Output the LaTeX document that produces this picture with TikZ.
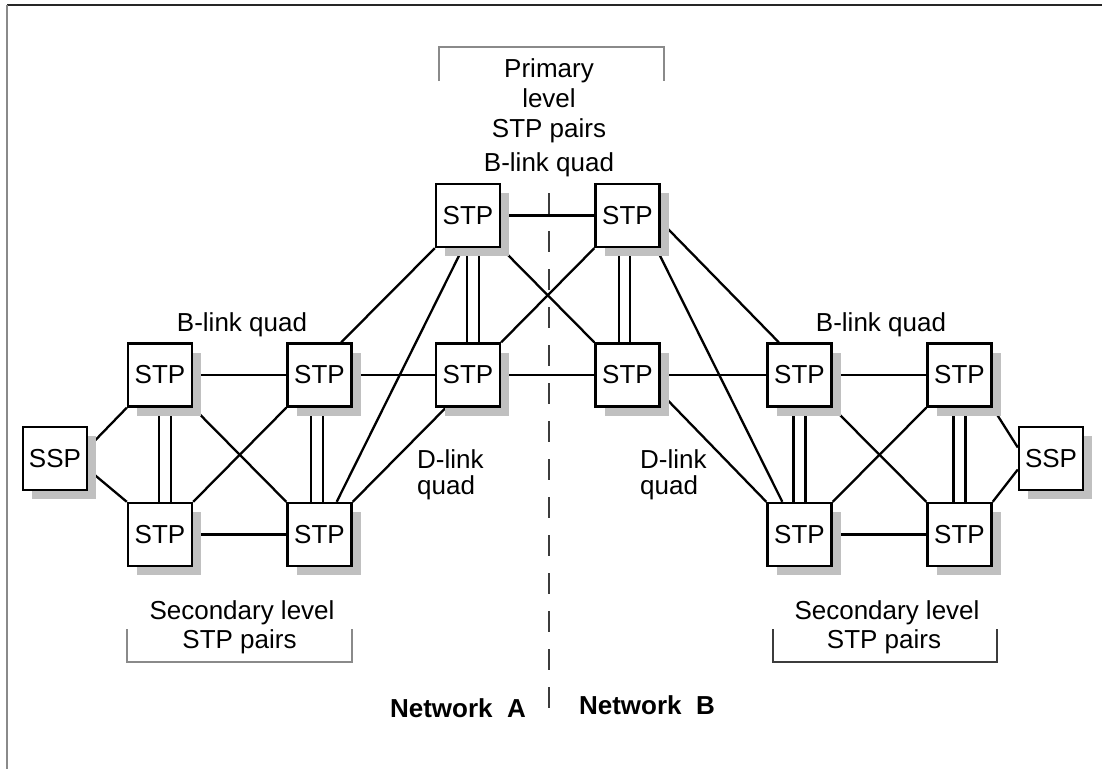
\documentclass[tikz,border=0pt]{standalone}
\usepackage{fontspec}
\setmainfont{Liberation Sans}
\usetikzlibrary{shadows,backgrounds,calc}
\definecolor{shadowgray}{HTML}{C0C0C0}
\definecolor{framegray}{HTML}{8A8A8A}
\definecolor{darkline}{HTML}{3C3C3C}
\begin{document}
\begin{tikzpicture}[x=1pt,y=-1pt,
  stpbox/.style={draw, line width=2.4pt, fill=white, minimum width=64pt, minimum height=63pt,
    inner sep=0pt, font=\fontsize{26}{30}\selectfont,
    drop shadow={shadow xshift=9pt, shadow yshift=-9pt, fill=shadowgray, opacity=1}},
  link/.style={line width=2.3pt},
  lbl/.style={font=\fontsize{26}{30}\selectfont, inner sep=0pt},
  dlbl/.style={font=\fontsize{26}{26}\selectfont, inner sep=0pt, align=left, anchor=north west},
  boldlbl/.style={font=\fontsize{26}{30}\selectfont\bfseries, inner sep=0pt},
  thinbracket/.style={draw=framegray, line width=1.3pt},
  thickbracket/.style={draw=darkline, line width=2.4pt},
]
\useasboundingbox (0,0) rectangle (1102,769);

% frame
\coordinate (f0) at (7,5);
\coordinate (f1) at (1102,5);
\coordinate (f2) at (7,769);
\draw[black!85, line width=1.6pt] (f0) -- (f1);
\draw[framegray, line width=2pt] (f0) -- (f2);

% brackets
\draw[thinbracket] (439,81) -- (439,47) -- (664,47) -- (664,81);
\draw[thinbracket] (127,629) -- (127,662) -- (352,662) -- (352,629);
\draw[thickbracket] (773,629) -- (773,662) -- (997,662) -- (997,629);

% dashed divider
\coordinate (d0) at (549,193);
\coordinate (d1) at (549,717);
\draw[darkline, line width=1.8pt, dash pattern=on 21pt off 17pt] (d0) -- (d1);

% nodes
\node[stpbox] (P1) at (468,215.5) {STP};
\node[stpbox] (P2) at (627.5,215.5) {STP};
\node[stpbox] (M1) at (468,375) {STP};
\node[stpbox] (M2) at (627.5,375) {STP};
\node[stpbox] (L1) at (160,375) {STP};
\node[stpbox] (L2) at (319.5,375) {STP};
\node[stpbox] (L3) at (160,534.5) {STP};
\node[stpbox] (L4) at (319.5,534.5) {STP};
\node[stpbox] (R1) at (799.5,375) {STP};
\node[stpbox] (R2) at (959.5,375) {STP};
\node[stpbox] (R3) at (799.5,534.5) {STP};
\node[stpbox] (R4) at (959.5,534.5) {STP};
\node[stpbox] (S1) at (55,458.5) {SSP};
\node[stpbox] (S2) at (1051,458.5) {SSP};

% labels
\node[lbl, anchor=base] (t1) at (549,77) {Primary};
\node[lbl, anchor=base] (t2) at (549,107) {level};
\node[lbl, anchor=base] (t3) at (549,137) {STP pairs};
\node[lbl, anchor=base] (t4) at (549,171) {B-link quad};
\node[lbl, anchor=base] (bl) at (242,331) {B-link quad};
\node[lbl, anchor=base] (br) at (881,331) {B-link quad};
\node[dlbl] (dl) at (417,449) {D-link\\quad};
\node[dlbl] (dr) at (640,449) {D-link\\quad};
\node[lbl, anchor=base] (sl1) at (242,619) {Secondary level};
\node[lbl, anchor=base] (sl2) at (239.5,648) {STP pairs};
\node[lbl, anchor=base] (sr1) at (887,619) {Secondary level};
\node[lbl, anchor=base] (sr2) at (884,648) {STP pairs};
\node[boldlbl, anchor=base] (na) at (458,717) {Network\ \ A};
\node[boldlbl, anchor=base] (nb) at (647,714) {Network\ \ B};

% connectors (behind boxes and shadows)
\begin{scope}[on background layer]
  \draw[link] (P1) -- (P2);
  \draw[link] (L2) -- (M1) -- (M2) -- (R1);
  \draw[link] (L1) -- (L2);
  \draw[link] (L3) -- (L4);
  \draw[link] (R1) -- (R2);
  \draw[link] (R3) -- (R4);
  % crossings
  \draw[link] (L1.south east) -- (L4.north west);
  \draw[link] (L2.south west) -- (L3.north east);
  \draw[link] (R1.south east) -- (R4.north west);
  \draw[link] (R2.south west) -- (R3.north east);
  \draw[link] (P1.south east) -- (M2.north west);
  \draw[link] (P2.south west) -- (M1.north east);
  % double links
  \draw[link] ($(P1.center)+(-1,0)$) -- ($(M1.center)+(-1,0)$);
  \draw[link] ($(P1.center)+(11,0)$) -- ($(M1.center)+(11,0)$);
  \draw[link] ($(P2.center)+(-8.5,0)$) -- ($(M2.center)+(-8.5,0)$);
  \draw[link] ($(P2.center)+(2.5,0)$) -- ($(M2.center)+(2.5,0)$);
  \draw[link] ($(L1.center)+(-1,0)$) -- ($(L3.center)+(-1,0)$);
  \draw[link] ($(L1.center)+(11,0)$) -- ($(L3.center)+(11,0)$);
  \draw[link] ($(L2.center)+(-8.5,0)$) -- ($(L4.center)+(-8.5,0)$);
  \draw[link] ($(L2.center)+(3.5,0)$) -- ($(L4.center)+(3.5,0)$);
  \draw[link] ($(R1.center)+(-6,0)$) -- ($(R3.center)+(-6,0)$);
  \draw[link] ($(R1.center)+(6,0)$) -- ($(R3.center)+(6,0)$);
  \draw[link] ($(R2.center)+(-6,0)$) -- ($(R4.center)+(-6,0)$);
  \draw[link] ($(R2.center)+(6,0)$) -- ($(R4.center)+(6,0)$);
  % primary to secondary
  \draw[link] (P1.south west) -- ($(L2.north east)+(-11.5,0)$);
  \draw[link] ($(P1.center)+(11,0)$) -- ($(L4.north east)+(-16,0)$);
  \draw[link] ($(P2.east)+(0,6)$) -- ($(R1.north west)+(12.5,0)$);
  \draw[link] ($(P2.center)+(12.5,0)$) -- ($(R3.north west)+(16,0)$);
  % D-links
  \draw[link] ($(M1.south west)+(11,0)$) -- (L4.north east);
  \draw[link] ($(M2.east)+(0,18)$) -- (R3.north west);
  % SSP links
  \draw[link] ($(S1.east)+(0,-11)$) -- (L1.south west);
  \draw[link] ($(S1.east)+(0,11)$) -- (L3.north west);
  \draw[link] ($(S2.west)+(0,-11)$) -- (R2.south east);
  \draw[link] ($(S2.west)+(0,11)$) -- (R4.north east);
\end{scope}
\end{tikzpicture}
\end{document}
